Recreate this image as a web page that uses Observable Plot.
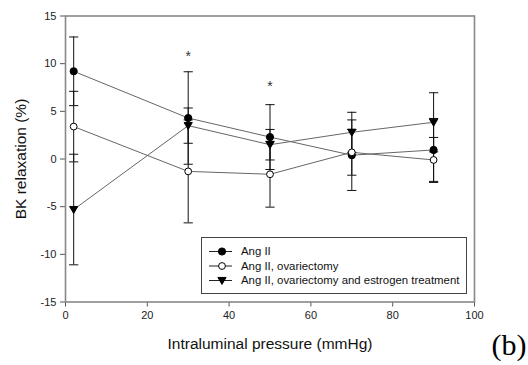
<!DOCTYPE html>
<html>
<head>
<meta charset="utf-8">
<script src="https://cdn.jsdelivr.net/npm/d3@7"></script>
<script src="https://cdn.jsdelivr.net/npm/@observablehq/plot@0.6"></script>
<style>
  body { margin: 0; background: white; }
  #wrap { position: relative; width: 528px; height: 365px; }
  #legend { position: absolute; left: 201px; top: 237px; }
</style>
</head>
<body>
<div id="wrap"></div>
<script>
// ---- data ----
const pressure = [2, 30, 50, 70, 90];
const seriesNames = ["Ang II", "Ang II, ovariectomy", "Ang II, ovariectomy and estrogen treatment"];
const angII = [9.2, 4.3, 2.3, 0.4, 0.95];
const angIIErr = [3.6, 4.85, 3.4, 3.7, 3.3];
const ovx = [3.4, -1.3, -1.6, 0.7, -0.1];
const ovxErr = [3.7, 5.4, 3.45, 2.4, 2.36];
const ovxE2 = [-5.3, 3.5, 1.5, 2.8, 3.85];
const ovxE2Err = [5.8, 1.85, 1.6, 2.1, 3.1];
const sigX = [30, 50];
const sigY = [10.8, 7.6];
const xTicks = [0, 20, 40, 60, 80, 100];
const yTicks = [-15, -10, -5, 0, 5, 10, 15];

// ---- build table ----
const means = [angII, ovx, ovxE2];
const errs = [angIIErr, ovxErr, ovxE2Err];
const rows = [];
seriesNames.forEach((s, i) => pressure.forEach((p, j) => rows.push({
  series: s, x: p, y: means[i][j], lo: means[i][j] - errs[i][j], hi: means[i][j] + errs[i][j]
})));
const sig = sigX.map((x, i) => ({x, y: sigY[i]}));

// custom symbols
const capSym = { draw(ctx, size) { const r = Math.sqrt(size / Math.PI); ctx.moveTo(-r, 0); ctx.lineTo(r, 0); } };
const triDown = { draw(ctx, size) { const r = Math.sqrt(size / Math.PI); ctx.moveTo(-r, -r * 0.75); ctx.lineTo(r, -r * 0.75); ctx.lineTo(0, r * 0.95); ctx.closePath(); } };

const styles = [
  {symbol: "circle", fill: "#000", stroke: "#000", r: 3.6},
  {symbol: "circle", fill: "#fff", stroke: "#000", r: 3.4},
  {symbol: triDown, fill: "#000", stroke: "#000", r: 4.1}
];

const fig = Plot.plot({
  width: 528,
  height: 365,
  marginLeft: 65,
  marginRight: 54,
  marginTop: 15.5,
  marginBottom: 63.5,
  x: {domain: [0, 100]},
  y: {domain: [-15, 15]},
  style: {fontFamily: "'Liberation Sans', Arial, sans-serif", fontSize: "11px", color: "#222", background: "white"},
  marks: [
    Plot.axisX({ticks: xTicks, tickFormat: d => String(d), tickSize: 5, tickPadding: 4, label: null, stroke: "#555"}),
    Plot.axisY({ticks: yTicks, tickFormat: d => String(d), tickSize: 5, tickPadding: 4, label: null, stroke: "#555"}),
    Plot.line(rows, {x: "x", y: "y", z: "series", stroke: "#666", strokeWidth: 1}),
    Plot.ruleX(rows, {x: "x", y1: "lo", y2: "hi", stroke: "#111", strokeWidth: 1}),
    Plot.dot(rows, {x: "x", y: "lo", symbol: capSym, r: 4.6, fill: "none", stroke: "#111", strokeWidth: 1}),
    Plot.dot(rows, {x: "x", y: "hi", symbol: capSym, r: 4.6, fill: "none", stroke: "#111", strokeWidth: 1}),
    ...seriesNames.map((s, i) => Plot.dot(rows.filter(d => d.series === s), {x: "x", y: "y", ...styles[i], strokeWidth: 1})),
    Plot.text(sig, {x: "x", y: "y", text: () => "*", fontSize: 14, fill: "#333"}),
    Plot.frame({stroke: "#888", strokeWidth: 1.6}),
    Plot.text(["BK relaxation (%)"], {frameAnchor: "left", dx: -44, rotate: -90, textAnchor: "middle", lineAnchor: "middle", fontSize: 15.5, fill: "#111"}),
    Plot.text(["Intraluminal pressure (mmHg)"], {frameAnchor: "bottom", dy: 42, textAnchor: "middle", lineAnchor: "middle", fontSize: 15.5, fill: "#111"}),
    Plot.text(["(b)"], {frameAnchor: "bottom-right", dx: 17, dy: 53, textAnchor: "start", lineAnchor: "bottom", fontSize: 30, fontFamily: "'Liberation Serif', 'Times New Roman', serif", fill: "#000"})
  ]
});
document.getElementById("wrap").appendChild(fig);

// ---- legend overlay ----
const lw = 266, lh = 57;
const leg = d3.select("#wrap").append("svg").attr("id", "legend").attr("width", lw).attr("height", lh);
leg.append("rect").attr("x", 0.5).attr("y", 0.5).attr("width", lw - 1).attr("height", lh - 1)
  .attr("fill", "white").attr("stroke", "#444").attr("stroke-width", 1);
seriesNames.forEach((s, i) => {
  const cy = 14.5 + i * 14.5;
  const g = leg.append("g");
  g.append("line").attr("x1", 8).attr("x2", 31).attr("y1", cy).attr("y2", cy).attr("stroke", "#222");
  const st = styles[i];
  if (st.symbol === "circle") {
    g.append("circle").attr("cx", 21).attr("cy", cy).attr("r", st.r).attr("fill", st.fill).attr("stroke", st.stroke);
  } else {
    g.append("path").attr("transform", `translate(21,${cy})`).attr("d", d3.symbol(triDown, Math.PI * st.r * st.r)()).attr("fill", st.fill).attr("stroke", st.stroke);
  }
  g.append("text").attr("x", 40).attr("y", cy).attr("dy", "0.35em")
    .attr("font-family", "'Liberation Sans', Arial, sans-serif").attr("font-size", 11.4).attr("fill", "#111").text(s);
});
</script>
</body>
</html>
